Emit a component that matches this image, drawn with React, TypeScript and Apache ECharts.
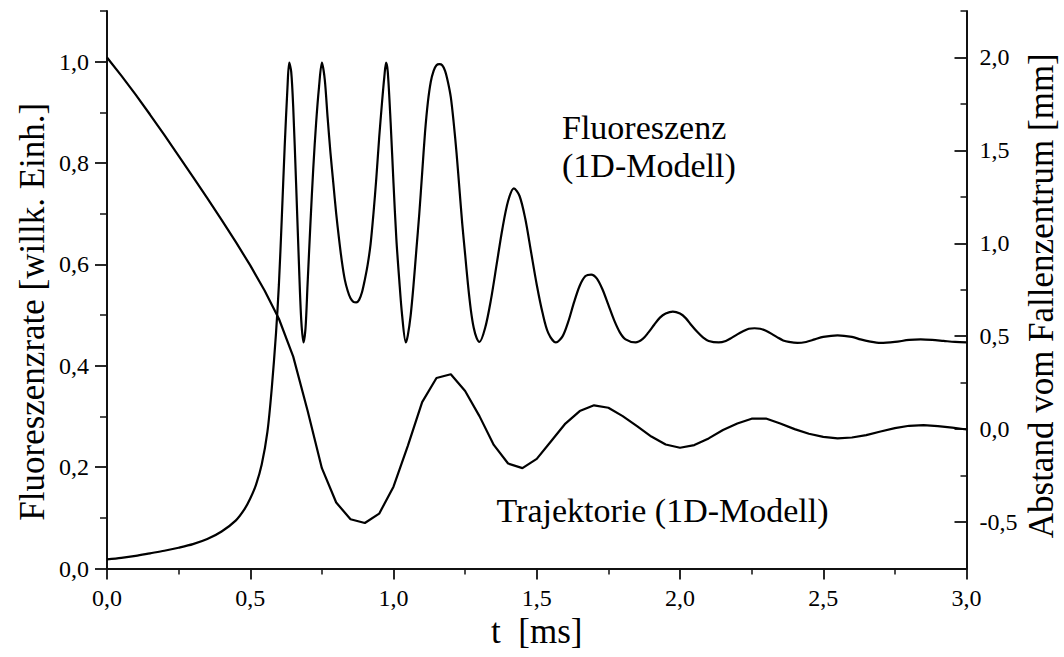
import React, { useEffect, useRef } from 'react';
import * as echarts from 'echarts';

// Fluoreszenzrate (left axis) sampled along t [ms]
const fluoTime = [
  0.0, 0.05, 0.1, 0.15, 0.2, 0.25, 0.3, 0.35, 0.4, 0.45, 0.48, 0.5, 0.52, 0.54, 0.56, 0.575, 0.59, 0.6, 0.61, 0.62,
  0.63, 0.636, 0.643, 0.65, 0.66, 0.67, 0.678, 0.686, 0.693, 0.7, 0.71, 0.72, 0.73, 0.74, 0.75, 0.76, 0.77, 0.78,
  0.79, 0.8, 0.81, 0.82, 0.83, 0.84, 0.85, 0.86, 0.87, 0.88, 0.89, 0.9, 0.91, 0.92, 0.93, 0.94, 0.95, 0.96, 0.968,
  0.974, 0.98, 0.99, 1.0, 1.01, 1.02, 1.03, 1.043, 1.05, 1.06, 1.07, 1.08, 1.09, 1.1, 1.11, 1.12, 1.13, 1.14, 1.15,
  1.16, 1.17, 1.18, 1.19, 1.2, 1.21, 1.22, 1.23, 1.24, 1.25, 1.26, 1.27, 1.28, 1.29, 1.3, 1.32, 1.34, 1.36, 1.38,
  1.4, 1.42, 1.44, 1.46, 1.48, 1.5, 1.52, 1.54, 1.567, 1.59, 1.61, 1.63, 1.65, 1.67, 1.69, 1.71, 1.73, 1.75, 1.77,
  1.79, 1.81, 1.845, 1.87, 1.89, 1.91, 1.93, 1.95, 1.975, 2.0, 2.02, 2.04, 2.06, 2.08, 2.1, 2.135, 2.16, 2.18, 2.2,
  2.22, 2.24, 2.26, 2.28, 2.3, 2.32, 2.34, 2.36, 2.38, 2.41, 2.44, 2.47, 2.5, 2.55, 2.6, 2.63, 2.66, 2.7, 2.75, 2.8,
  2.84, 2.88, 2.92, 2.96, 3.0,
];
const fluoRate = [
  0.018, 0.021, 0.025, 0.03, 0.035, 0.041, 0.048, 0.058, 0.073, 0.095, 0.117, 0.138, 0.165, 0.205, 0.27, 0.355, 0.465,
  0.56, 0.69, 0.83, 0.95, 0.998, 0.98, 0.91, 0.76, 0.6, 0.49, 0.446, 0.475, 0.56, 0.68, 0.79, 0.88, 0.95, 0.998, 0.965,
  0.89, 0.82, 0.76, 0.7, 0.65, 0.605, 0.57, 0.548, 0.533, 0.526, 0.525, 0.53, 0.545, 0.57, 0.6, 0.64, 0.7, 0.77, 0.85,
  0.92, 0.97, 0.998, 0.98, 0.88, 0.76, 0.65, 0.57, 0.5, 0.446, 0.46, 0.5, 0.56, 0.63, 0.7, 0.78, 0.86, 0.92, 0.96,
  0.982, 0.993, 0.995, 0.993, 0.982, 0.96, 0.93, 0.88, 0.82, 0.75, 0.68, 0.62, 0.56, 0.51, 0.475, 0.455, 0.447, 0.475,
  0.53, 0.6, 0.67, 0.725, 0.75, 0.735, 0.69, 0.625, 0.56, 0.505, 0.465, 0.446, 0.458, 0.487, 0.525, 0.558, 0.577, 0.58,
  0.572, 0.55, 0.52, 0.49, 0.466, 0.452, 0.446, 0.453, 0.466, 0.481, 0.495, 0.503, 0.507, 0.503, 0.494, 0.48, 0.467,
  0.456, 0.449, 0.446, 0.449, 0.455, 0.462, 0.468, 0.473, 0.474, 0.473, 0.469, 0.463, 0.456, 0.45, 0.447, 0.445,
  0.447, 0.452, 0.457, 0.46, 0.457, 0.452, 0.448, 0.445, 0.447, 0.451, 0.452, 0.451, 0.449, 0.447, 0.446,
];

// Abstand vom Fallenzentrum [mm] (right axis), sampled every 0.05 ms
const trajTime = [
  0.0, 0.05, 0.1, 0.15, 0.2, 0.25, 0.3, 0.35, 0.4, 0.45, 0.5, 0.55, 0.6, 0.65, 0.7, 0.75, 0.8, 0.85, 0.9, 0.95, 1.0,
  1.05, 1.1, 1.15, 1.2, 1.25, 1.3, 1.35, 1.4, 1.45, 1.5, 1.55, 1.6, 1.65, 1.7, 1.75, 1.8, 1.85, 1.9, 1.95, 2.0, 2.05,
  2.1, 2.15, 2.2, 2.25, 2.3, 2.35, 2.4, 2.45, 2.5, 2.55, 2.6, 2.65, 2.7, 2.75, 2.8, 2.85, 2.9, 2.95, 3.0,
];
const trajectory = [
  2.0, 1.902, 1.8, 1.693, 1.583, 1.471, 1.358, 1.243, 1.126, 1.006, 0.881, 0.746, 0.594, 0.39, 0.1, -0.21, -0.395,
  -0.485, -0.505, -0.455, -0.31, -0.09, 0.145, 0.275, 0.295, 0.205, 0.07, -0.085, -0.185, -0.21, -0.16, -0.065, 0.03,
  0.097, 0.128, 0.115, 0.07, 0.016, -0.04, -0.083, -0.1, -0.086, -0.05, -0.005, 0.03, 0.056, 0.057, 0.03, 0.0, -0.025,
  -0.042, -0.05, -0.045, -0.032, -0.013, 0.005, 0.018, 0.021, 0.016, 0.008, -0.002,
];

// Tick values
const leftMajorTicks = [0, 0.2, 0.4, 0.6, 0.8, 1.0];
const leftMinorTicks = [0.1, 0.3, 0.5, 0.7, 0.9, 1.1];
const rightMajorTicks = [-0.5, 0, 0.5, 1.0, 1.5, 2.0];
const rightMinorTicks = [-0.25, 0.25, 0.75, 1.25, 1.75, 2.25];

// Axis titles and annotations
const xTitle = 't\u00a0\u00a0[ms]';
const leftTitle = 'Fluoreszenzrate [willk. Einh.]';
const rightTitle = 'Abstand vom Fallenzentrum [mm]';
const fluoNote = 'Fluoreszenz\n(1D-Modell)';
const trajNote = 'Trajektorie (1D-Modell)';

const FAMILY = "'Liberation Serif', 'Times New Roman', serif";
const INK = '#111';
const fmt = (v: number) => v.toFixed(1).replace('.', ',');

export default function App() {
  const ref = useRef<HTMLDivElement>(null);

  useEffect(() => {
    const chart = echarts.init(ref.current as HTMLDivElement, null, { renderer: 'svg' });
    const axisLine = { show: true, onZero: false, lineStyle: { color: INK, width: 2 } };
    const labelStyle = { fontSize: 24, fontFamily: FAMILY, color: '#000' };
    const nameStyle = { fontSize: 35, fontFamily: FAMILY, color: '#000' };

    chart.setOption({
      animation: false,
      backgroundColor: '#fff',
      grid: { left: 107, right: 97.5, top: 11, bottom: 88.5, containLabel: false, outerBoundsMode: 'none' },
      xAxis: [
        {
          type: 'value',
          min: 0,
          max: 3,
          interval: 0.5,
          position: 'bottom',
          axisLine,
          axisTick: { show: true, inside: false, length: 11, lineStyle: { color: INK, width: 1.8 } },
          minorTick: { show: true, splitNumber: 2, length: 6, lineStyle: { color: INK, width: 1.5 } },
          axisLabel: { ...labelStyle, margin: 17, formatter: fmt },
          splitLine: { show: false },
          minorSplitLine: { show: false },
          name: xTitle,
          nameLocation: 'middle',
          nameGap: 45,
          nameMoveOverlap: false,
          nameTextStyle: nameStyle,
        },
      ],
      yAxis: [
        {
          type: 'value',
          min: 0,
          max: 1.1,
          position: 'left',
          axisLine,
          axisTick: { show: true, inside: false, length: 12, customValues: leftMajorTicks, lineStyle: { color: INK, width: 1.8 } },
          axisLabel: { ...labelStyle, margin: 18, customValues: leftMajorTicks, formatter: fmt },
          splitLine: { show: false },
          name: leftTitle,
          nameLocation: 'middle',
          nameGap: 57,
          nameMoveOverlap: false,
          nameTextStyle: { ...nameStyle, padding: [0, 44, 0, 0] },
        },
        {
          type: 'value',
          min: 0,
          max: 1.1,
          position: 'left',
          axisLine: { show: false, onZero: false },
          axisTick: { show: true, inside: false, length: 7, customValues: leftMinorTicks, lineStyle: { color: INK, width: 1.5 } },
          axisLabel: { show: false },
          splitLine: { show: false },
        },
        {
          type: 'value',
          min: -0.75,
          max: 2.25,
          position: 'right',
          axisLine,
          axisTick: { show: true, inside: true, length: 12, customValues: rightMajorTicks, lineStyle: { color: INK, width: 1.8 } },
          axisLabel: { ...labelStyle, margin: 13, customValues: rightMajorTicks, formatter: fmt },
          splitLine: { show: false },
          name: rightTitle,
          nameLocation: 'middle',
          nameRotate: 90,
          nameGap: 57,
          nameMoveOverlap: false,
          nameTextStyle: { ...nameStyle, padding: [0, 12, 0, 0] },
        },
        {
          type: 'value',
          min: -0.75,
          max: 2.25,
          position: 'right',
          axisLine: { show: false, onZero: false },
          axisTick: { show: true, inside: true, length: 6, customValues: rightMinorTicks, lineStyle: { color: INK, width: 1.5 } },
          axisLabel: { show: false },
          splitLine: { show: false },
        },
      ],
      series: [
        {
          name: 'Fluoreszenz (1D-Modell)',
          type: 'line',
          xAxisIndex: 0,
          yAxisIndex: 0,
          data: fluoTime.map((t, i) => [t, fluoRate[i]]),
          symbol: 'none',
          showSymbol: false,
          smooth: 0.3,
          lineStyle: { color: '#000', width: 2.2 },
        },
        {
          name: 'Trajektorie (1D-Modell)',
          type: 'line',
          xAxisIndex: 0,
          yAxisIndex: 2,
          data: trajTime.map((t, i) => [t, trajectory[i]]),
          symbol: 'none',
          showSymbol: false,
          smooth: false,
          lineStyle: { color: '#000', width: 2.2 },
        },
      ],
      graphic: [
        {
          type: 'text',
          x: 562,
          y: 108.5,
          style: {
            text: fluoNote,
            font: `34px ${FAMILY}`,
            fill: '#000',
            lineHeight: 38,
            textAlign: 'left',
            textVerticalAlign: 'top',
            align: 'left',
            verticalAlign: 'top',
          },
        },
        {
          type: 'text',
          x: 496.5,
          y: 510,
          style: {
            text: trajNote,
            font: `34px ${FAMILY}`,
            fill: '#000',
            textAlign: 'left',
            textVerticalAlign: 'middle',
            align: 'left',
            verticalAlign: 'middle',
          },
        },
      ],
    });
    return () => chart.dispose();
  }, []);

  return (
    <div
      ref={ref}
      style={{ position: 'absolute', left: 0, top: 0, width: 1064, height: 657, background: '#fff' }}
    />
  );
}
